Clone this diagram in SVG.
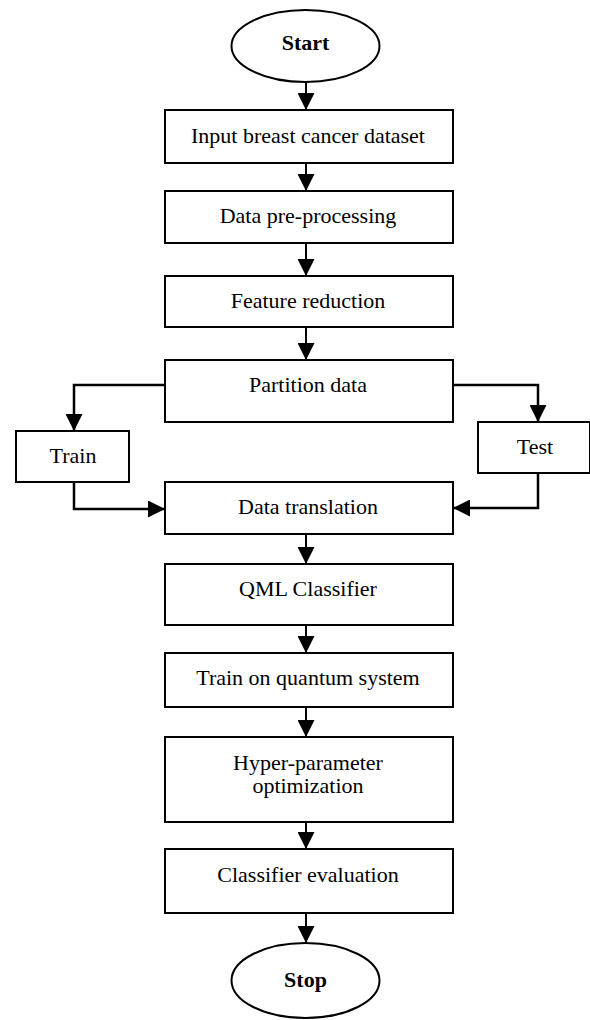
<svg xmlns="http://www.w3.org/2000/svg" width="590" height="1020" viewBox="0 0 590 1020">
<style>
.box{fill:#fff;stroke:#000;stroke-width:2}
.t{font-family:"Liberation Serif","Times New Roman",serif;font-size:22px;fill:#000;text-anchor:middle}
.b{font-weight:bold}
.c{fill:none;stroke:#000;stroke-width:2}
.c2{fill:none;stroke:#000;stroke-width:2.5}
</style>
<defs>
<marker id="ah" viewBox="0 0 17 17" refX="17" refY="8.5" markerWidth="17" markerHeight="17" markerUnits="userSpaceOnUse" orient="auto">
<path d="M0,0 L17,8.5 L0,17 z" fill="#000"/>
</marker>
</defs>
<rect width="590" height="1020" fill="#fff"/>
<g id="connectors">
<path class="c" d="M306,82 V110" marker-end="url(#ah)"/>
<path class="c" d="M306,163 V191" marker-end="url(#ah)"/>
<path class="c" d="M306,243 V276" marker-end="url(#ah)"/>
<path class="c" d="M306,327 V360" marker-end="url(#ah)"/>
<path class="c2" d="M165,385 H74 V431" marker-end="url(#ah)"/>
<path class="c2" d="M453,385 H538 V422" marker-end="url(#ah)"/>
<path class="c2" d="M74,482 V509 H165" marker-end="url(#ah)"/>
<path class="c2" d="M538,473 V508 H453" marker-end="url(#ah)"/>
<path class="c" d="M306,534 V564" marker-end="url(#ah)"/>
<path class="c" d="M306,625 V653" marker-end="url(#ah)"/>
<path class="c" d="M306,707 V737" marker-end="url(#ah)"/>
<path class="c" d="M306,822 V849" marker-end="url(#ah)"/>
<path class="c" d="M306,913 V943" marker-end="url(#ah)"/>
</g>
<g id="start"><ellipse class="box" cx="305.5" cy="46" rx="74" ry="36"/><text class="t b" x="305.5" y="50">Start</text></g>
<g id="input"><rect class="box" x="165" y="110" width="288" height="53"/><text class="t" x="308" y="143">Input breast cancer dataset</text></g>
<g id="preprocess"><rect class="box" x="165" y="191" width="288" height="52"/><text class="t" x="308" y="223">Data pre-processing</text></g>
<g id="feature"><rect class="box" x="165" y="276" width="288" height="51"/><text class="t" x="308" y="308">Feature reduction</text></g>
<g id="partition"><rect class="box" x="165" y="360" width="288" height="62"/><text class="t" x="308" y="392">Partition data</text></g>
<g id="train"><rect class="box" x="16" y="431" width="113" height="51"/><text class="t" x="73" y="463">Train</text></g>
<g id="test"><rect class="box" x="478" y="422" width="112" height="51"/><text class="t" x="535" y="454">Test</text></g>
<g id="translation"><rect class="box" x="165" y="482" width="288" height="52"/><text class="t" x="308" y="514">Data translation</text></g>
<g id="qml"><rect class="box" x="165" y="564" width="288" height="61"/><text class="t" x="308" y="596">QML Classifier</text></g>
<g id="quantum"><rect class="box" x="165" y="653" width="288" height="54"/><text class="t" x="308" y="685">Train on quantum system</text></g>
<g id="hyper"><rect class="box" x="165" y="737" width="288" height="85"/><text class="t" x="308" y="769.5">Hyper-parameter</text><text class="t" x="308" y="793">optimization</text></g>
<g id="evaluation"><rect class="box" x="165" y="849" width="288" height="64"/><text class="t" x="308" y="881.5">Classifier evaluation</text></g>
<g id="stop"><ellipse class="box" cx="305.5" cy="980.5" rx="74" ry="37.5"/><text class="t b" x="305.5" y="987">Stop</text></g>
</svg>
